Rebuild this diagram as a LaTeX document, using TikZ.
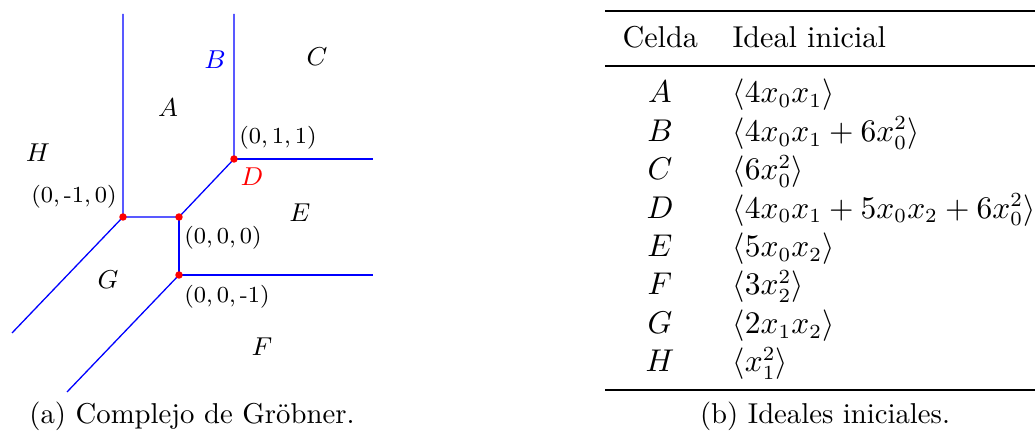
\documentclass[tikz,border=0pt]{standalone}
\usepackage{tikz}
\tikzset{
  complex edge/.style={draw=blue,line width=.45pt},
  complex vertex/.style={circle,fill=red,inner sep=0pt,minimum size=2.6pt},
  cell label/.style={inner sep=0pt,font=\fontsize{8.8}{10}\selectfont},
  coord label/.style={inner sep=0pt,font=\fontsize{7.8}{9}\selectfont},
  table text/.style={inner sep=0pt,font=\fontsize{10.5}{13}\selectfont},
  table rule/.style={draw=black,line width=.8pt},
  thin rule/.style={draw=black,line width=.5pt},
  caption text/.style={inner sep=0pt,anchor=base}
}
\begin{document}
\begin{tikzpicture}[x=0.01224cm,y=-0.01224cm]
  \useasboundingbox (0,0) rectangle (1035,436);
  % vertices of the complex
  \coordinate (p0m10) at (123,217);
  \coordinate (p000) at (179,217);
  \coordinate (p011) at (234,159);
  \coordinate (p00m1) at (179,275);
  % free ends of the rays
  \coordinate (topA) at (123,14);
  \coordinate (topB) at (234,14);
  \coordinate (rightD) at (373,159);
  \coordinate (rightF) at (373,275);
  \coordinate (lowG) at (12,333);
  \coordinate (lowF) at (67,392);
  \draw[complex edge] (topA) -- (p0m10) -- (p000) -- (p011) -- (topB);
  \draw[complex edge] (p011) -- (rightD);
  \draw[complex edge] (p000) -- (p00m1) -- (rightF);
  \draw[complex edge] (p0m10) -- (lowG);
  \draw[complex edge] (p00m1) -- (lowF);
  \node[complex vertex] (dot0m10) at (p0m10) {};
  \node[complex vertex] (dot000) at (p000) {};
  \node[complex vertex] (dot011) at (p011) {};
  \node[complex vertex] (dot00m1) at (p00m1) {};
  % cells
  \node[cell label] (cellA) at (168,108) {$A$};
  \node[cell label,text=blue] (cellB) at (215,60) {$B$};
  \node[cell label] (cellC) at (317,57) {$C$};
  \node[cell label,text=red] (cellD) at (252,177) {$D$};
  \node[cell label] (cellE) at (300,213) {$E$};
  \node[cell label] (cellF) at (262,347) {$F$};
  \node[cell label] (cellG) at (108,280) {$G$};
  \node[cell label] (cellH) at (38,153) {$H$};
  \node[coord label] (lab011) at (278,138) {$(0,1,1)$};
  \node[coord label] (lab0m10) at (74,197) {$(0,\mbox{-}1,0)$};
  \node[coord label] (lab000) at (223,238) {$(0,0,0)$};
  \node[coord label] (lab00m1) at (227,297) {$(0,0,\mbox{-}1)$};
  \node[caption text] (capA) at (192,424) {(a) Complejo de Gr\"obner.};
  % table of initial ideals
  \coordinate (ruleL) at (605,0);
  \coordinate (ruleR) at (1035,0);
  \draw[table rule] (ruleL |- 0,11) -- (ruleR |- 0,11);
  \draw[thin rule] (ruleL |- 0,66) -- (ruleR |- 0,66);
  \draw[table rule] (ruleL |- 0,390) -- (ruleR |- 0,390);
  \node[table text,anchor=base west] (headCell) at (622,48) {Celda};
  \node[table text,anchor=base west] (headIdeal) at (732,48) {Ideal inicial};
  \node[table text,anchor=base] (rowA) at (660,103) {$A$};
  \node[table text,anchor=base west] (idealA) at (732,103) {$\langle 4x_0x_1\rangle$};
  \node[table text,anchor=base] (rowB) at (660,141.4) {$B$};
  \node[table text,anchor=base west] (idealB) at (732,141.4) {$\langle 4x_0x_1+6x_0^2\rangle$};
  \node[table text,anchor=base] (rowC) at (660,179.8) {$C$};
  \node[table text,anchor=base west] (idealC) at (732,179.8) {$\langle 6x_0^2\rangle$};
  \node[table text,anchor=base] (rowD) at (660,218.2) {$D$};
  \node[table text,anchor=base west] (idealD) at (732,218.2) {$\langle 4x_0x_1+5x_0x_2+6x_0^2\rangle$};
  \node[table text,anchor=base] (rowE) at (660,256.6) {$E$};
  \node[table text,anchor=base west] (idealE) at (732,256.6) {$\langle 5x_0x_2\rangle$};
  \node[table text,anchor=base] (rowF) at (660,295) {$F$};
  \node[table text,anchor=base west] (idealF) at (732,295) {$\langle 3x_2^2\rangle$};
  \node[table text,anchor=base] (rowG) at (660,333.4) {$G$};
  \node[table text,anchor=base west] (idealG) at (732,333.4) {$\langle 2x_1x_2\rangle$};
  \node[table text,anchor=base] (rowH) at (660,371.8) {$H$};
  \node[table text,anchor=base west] (idealH) at (732,371.8) {$\langle x_1^2\rangle$};
  \node[caption text] (capB) at (825,424) {(b) Ideales iniciales.};
\end{tikzpicture}
\end{document}
